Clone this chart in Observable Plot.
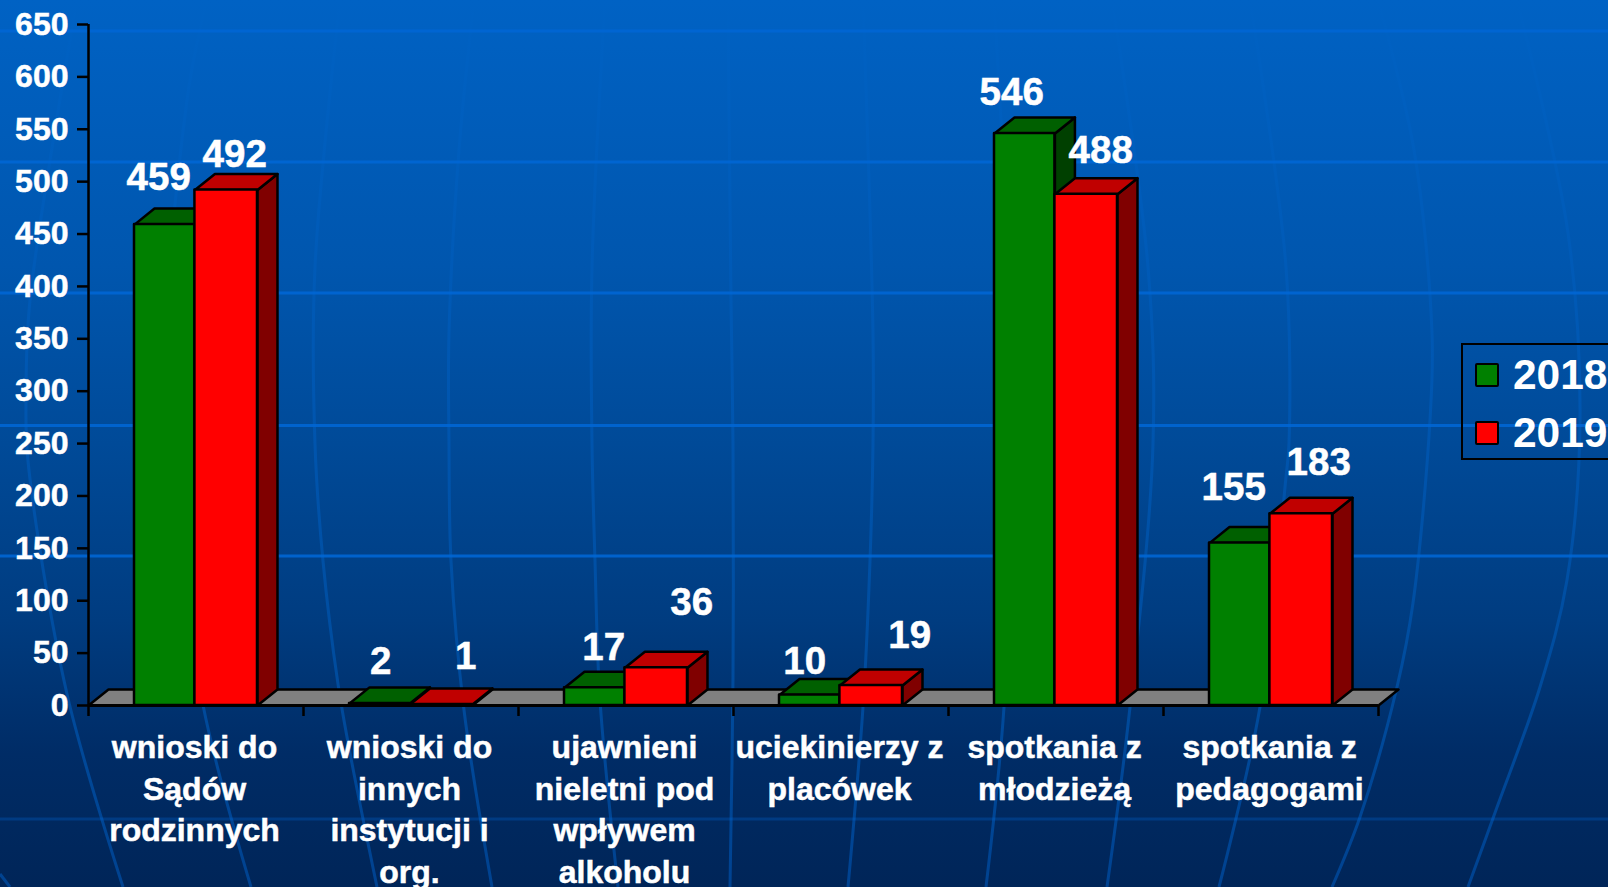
<!DOCTYPE html>
<html lang="pl">
<head>
<meta charset="utf-8">
<script src="https://cdn.jsdelivr.net/npm/d3@7"></script>
<script src="https://cdn.jsdelivr.net/npm/@observablehq/plot@0.6"></script>
<style>
  html, body { margin: 0; padding: 0; width: 1608px; height: 887px; overflow: hidden;
    background: linear-gradient(to bottom, #0062c4 0%, #0056ae 30%, #004a98 50%, #003c80 70%, #002c66 85%, #002558 100%);
    font-family: "Liberation Sans", Arial, sans-serif; }
  #bg { position: absolute; left: 0; top: 0; }
  #chart { position: absolute; left: 0; top: 0; }
  #chart text { stroke: #fff; stroke-width: 0.5px; }
  #legend { position: absolute; left: 1460.5px; top: 343px; width: 160px; height: 113px;
    border: 2.5px solid #000; box-sizing: content-box; color: #fff; font-weight: bold; font-size: 42.5px; }
  #legend .row { position: absolute; left: 50.4px; line-height: 46px; }
  #legend .sw { position: absolute; left: -38px; top: 10.5px; width: 20px; height: 20px;
    border: 2.5px solid #000; border-radius: 2px; }
</style>
</head>
<body>
<svg id="bg" width="1608" height="887"></svg>
<div id="chart"></div>
<div id="legend"></div>
<script>
// --- chart data ---
const categories = [
  "wnioski do\nSądów\nrodzinnych",
  "wnioski do\ninnych\ninstytucji i\norg.",
  "ujawnieni\nnieletni pod\nwpływem\nalkoholu",
  "uciekinierzy z\nplacówek",
  "spotkania z\nmłodzieżą",
  "spotkania z\npedagogami"
];
const years = ["2018", "2019"];
const values2018 = [459, 2, 17, 10, 546, 155];
const values2019 = [492, 1, 36, 19, 488, 183];
const yTicks = [0, 50, 100, 150, 200, 250, 300, 350, 400, 450, 500, 550, 600, 650];
// label nudges in pixels from the top-centre of each bar front
const nudge2018 = [[-6, -47], [1, -42], [9, -40], [-5, -33.5], [-13, -41], [-6, -55.6]];
const nudge2019 = [[8.5, -35], [24.5, -48], [35.5, -65], [38.5, -50], [14.5, -43.6], [17.5, -51]];

// --- 3D look ---
const seriesStyle = {
  "2018": {front: "#008000", top: "#006000", side: "#004000", x1: 0.214, x2: 0.495},
  "2019": {front: "#ff0000", top: "#c00000", side: "#800000", x1: 0.495, x2: 0.786}
};
const depthX = 0.093, depthY = 15.3;
const ink = {stroke: "#000", strokeWidth: 2.5, strokeLinejoin: "round"};
const font = {fontFamily: "Liberation Sans, Arial, sans-serif", fontWeight: "bold", fill: "#fff"};

const rows = years.map((yr, s) => (s ? values2019 : values2018).map((value, i) => ({
  i, year: yr, value, x1: i + seriesStyle[yr].x1, x2: i + seriesStyle[yr].x2,
  nudge: (s ? nudge2019 : nudge2018)[i]
})));

const poly = (id, pts) => pts.map(([x, y]) => ({id, x, y}));
const topFaces = r => r.flatMap(d => poly(d.i, [[d.x1, d.value], [d.x2, d.value], [d.x2 + depthX, d.value + depthY], [d.x1 + depthX, d.value + depthY]]));
const sideFaces = r => r.flatMap(d => poly(d.i, [[d.x2, 0], [d.x2, d.value], [d.x2 + depthX, d.value + depthY], [d.x2 + depthX, depthY]]));
const face = (data, fill) => Plot.line(data, {x: "x", y: "y", z: "id", fill, curve: "linear-closed", ...ink});

const seriesMarks = rows.flatMap(r => {
  const st = seriesStyle[r[0].year];
  return [
    face(sideFaces(r), st.side),
    face(topFaces(r), st.top),
    Plot.rect(r, {x1: "x1", x2: "x2", y1: 0, y2: "value", fill: st.front, ...ink})
  ];
});

const labelMarks = rows.flat().map(d =>
  Plot.text([d], {
    x: v => (v.x1 + v.x2) / 2, y: "value", text: v => String(v.value),
    dx: d.nudge[0], dy: d.nudge[1], fontSize: 38.5, ...font
  })
);

const floor = poly("floor", [[0, 0], [6, 0], [6 + depthX, depthY], [depthX, depthY]]);

const chart = Plot.plot({
  width: 1608, height: 887,
  marginLeft: 88, marginRight: 230, marginTop: 24, marginBottom: 182,
  style: {background: "transparent", overflow: "visible"},
  x: {domain: [0, 6], label: null},
  y: {domain: [0, 650], label: null},
  marks: [
    face(floor, "#808080"),
    ...seriesMarks,
    Plot.ruleX([0], {stroke: "#000", strokeWidth: 2.5}),
    Plot.ruleY([0], {x1: 0, x2: 6, stroke: "#000", strokeWidth: 3}),
    Plot.axisY({ticks: yTicks, tickSize: 11, tickPadding: 9, stroke: "#000", strokeWidth: 2.5, fontSize: 32, label: null, ...font}),
    Plot.axisX({ticks: d3.range(0, 7), tickSize: 11, stroke: "#000", strokeWidth: 2.5, tickFormat: () => "", label: null}),
    Plot.text(categories, {
      x: (d, i) => i + 0.5, y: 0, text: d => d, lineAnchor: "top", dx: -1.5, dy: 23,
      lineHeight: 1.3, fontSize: 32, ...font
    }),
    ...labelMarks
  ]
});
document.getElementById("chart").append(chart);

// --- legend ---
const legend = d3.select("#legend");
years.forEach((yr, s) => {
  const row = legend.append("div").attr("class", "row").style("top", (7 + s * 58) + "px").text(yr);
  row.append("div").attr("class", "sw").style("background", seriesStyle[yr].front);
});

// --- slide background decoration (globe lines) ---
const parallels = [[31, .9], [162, .9], [293, .9], [425.5, .9], [556, .9], [819, .3]];
const meridians = [
  [[77,0],[30,300],[26,400],[28,461],[67,694],[123,887]],
  [[207,0],[187,100],[165,420],[203,705],[251,887]],
  [[340,0],[315,267],[315,444],[323,561],[338,684],[350,753],[377,887]],
  [[474,0],[459,150],[449,333],[449,444],[451,561],[464,710],[492,887]],
  [[605,0],[592,267],[592,444],[595,561],[600,700],[618,887]],
  [[728,0],[731,300],[733,444],[733,677],[730,887]],
  [[863,0],[873,333],[873,444],[870,561],[863,707],[848,887]],
  [[994,0],[1010,300],[1013,444],[1004,707],[986,887]],
  [[1112,0],[1148,267],[1153,444],[1130,707],[1107,887]],
  [[1250,0],[1286,267],[1289,443],[1286,477],[1260,707],[1219,887]],
  [[1378,0],[1414,150],[1432,333],[1430,420],[1413,603],[1397,687],[1360,817],[1332,887]],
  [[1517,0],[1568,233],[1580,420],[1567,580],[1540,687],[1496,810],[1468,887]],
  [[0,874],[10,887]]
];
const bg = d3.select("#bg");
const grad = bg.append("defs").append("linearGradient").attr("id", "mer")
  .attr("gradientUnits", "userSpaceOnUse").attr("x1", 0).attr("x2", 0).attr("y1", 0).attr("y2", 887);
[[0, "#0062c4"], [.45, "#0056b0"], [.75, "#004c9e"], [1, "#004290"]].forEach(([o, c]) =>
  grad.append("stop").attr("offset", o).attr("stop-color", c));
const path = d3.line().curve(d3.curveCatmullRom);
bg.selectAll("path.m").data(meridians).join("path").attr("class", "m")
  .attr("d", path).attr("fill", "none").attr("stroke", "url(#mer)").attr("stroke-width", 3);
bg.selectAll("line").data(parallels).join("line")
  .attr("x1", 0).attr("x2", 1608).attr("y1", d => d[0]).attr("y2", d => d[0])
  .attr("stroke", "#0066d4").attr("stroke-opacity", d => d[1]).attr("stroke-width", 3);
</script>
</body>
</html>
